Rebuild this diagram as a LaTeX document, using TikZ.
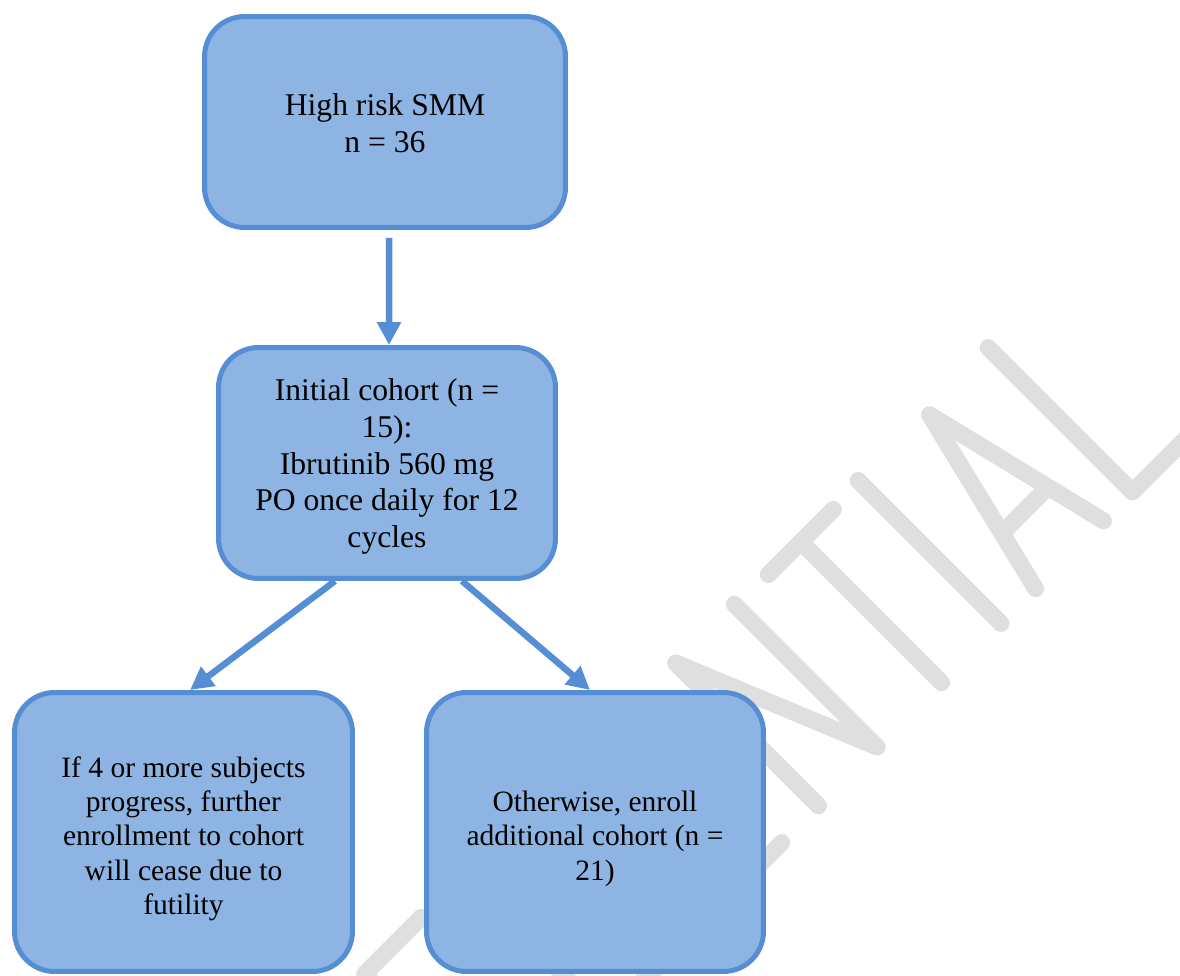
\documentclass[tikz,border=0pt]{standalone}
\usepackage{fontspec}
\setmainfont{Liberation Serif}
\usetikzlibrary{arrows.meta}
\definecolor{boxfill}{RGB}{142,180,227}
\definecolor{boxline}{RGB}{85,142,213}
\definecolor{stamp}{RGB}{223,223,223}
\newcommand{\lift}[1]{\rule{0pt}{#1}}
\tikzset{ flowbox/.style={draw=boxline, fill=boxfill, line width=0.1cm, rounded corners=0.8cm, align=center, inner sep=0pt, minimum width=6.74cm} }
\tikzset{ bigtext/.style={font=\fontsize{18}{20.9}\selectfont}, smalltext/.style={font=\fontsize{16.8}{19.4}\selectfont} }
\tikzset{ flowarrow/.style={draw=boxline, line width=0.13cm, -{Triangle[width=0.46cm,length=0.46cm]}} }
\tikzset{ stampline/.style={draw=stamp, line width=0.34cm, line cap=round, line join=round} }

\begin{document}
\begin{tikzpicture}[x=0.02cm,y=-0.02cm]
  \useasboundingbox (0,0) rectangle (1180,976);
  % watermark
  \begin{scope}
    \clip (0,0) rectangle (1180,976);
    \begin{scope}[shift={(1037,600)},rotate=45,y=0.02cm]
      \draw[stampline] (-660,211) -- (-740,211) -- (-740,9);
      \draw[stampline] (-740,115) -- (-670,115);
      \draw[stampline] (-600,9) -- (-600,211);
      \draw[stampline] (-540,9) -- (-540,211) -- (-500,211) .. controls (-425,211) and (-425,9) .. (-500,9) -- cycle;
      \draw[stampline] (-350,211) -- (-395,211) -- (-395,9) -- (-352,9);
      \draw[stampline] (-395,112) -- (-357,112);
      \draw[stampline] (-300,9) -- (-300,211) -- (-217,9) -- (-217,211);
      \draw[stampline] (-172,208) -- (-80,208);
      \draw[stampline] (-126,208) -- (-126,9);
      \draw[stampline] (-42,9) -- (-42,211);
      \draw[stampline] (7,9) -- (55,207) -- (103,9);
      \draw[stampline] (24,72) -- (86,72);
      \draw[stampline] (144,213) -- (144,9) -- (240,9);
    \end{scope}
  \end{scope}
  % boxes
  \node[flowbox,bigtext,minimum width=7.22cm,minimum height=4.22cm] (smm) at (385,122) {\lift{14pt}High risk SMM\\n = 36};
  \node[flowbox,bigtext,minimum height=4.62cm] (cohort) at (387,463) {\lift{16.5pt}Initial cohort (n =\\15):\\Ibrutinib 560 mg\\PO once daily for 12\\cycles};
  \node[flowbox,smalltext,minimum width=6.76cm,minimum height=5.58cm] (futility) at (183.5,832) {\lift{19.5pt}If 4 or more subjects\\progress, further\\enrollment to cohort\\will cease due to\\futility};
  \node[flowbox,smalltext,minimum height=5.58cm] (extra) at (595,832) {\lift{19.5pt}Otherwise, enroll\\additional cohort (n =\\21)};
  % arrows
  \draw[flowarrow] ([xshift=0.08cm,yshift=-0.16cm]smm.south) -- ([xshift=0.04cm]cohort.north);
  \draw[flowarrow] ([xshift=-1.04cm]cohort.south) -- ([xshift=0.13cm]futility.north);
  \draw[flowarrow] ([xshift=1.5cm]cohort.south) -- ([xshift=-0.1cm]extra.north);
\end{tikzpicture}
\end{document}
